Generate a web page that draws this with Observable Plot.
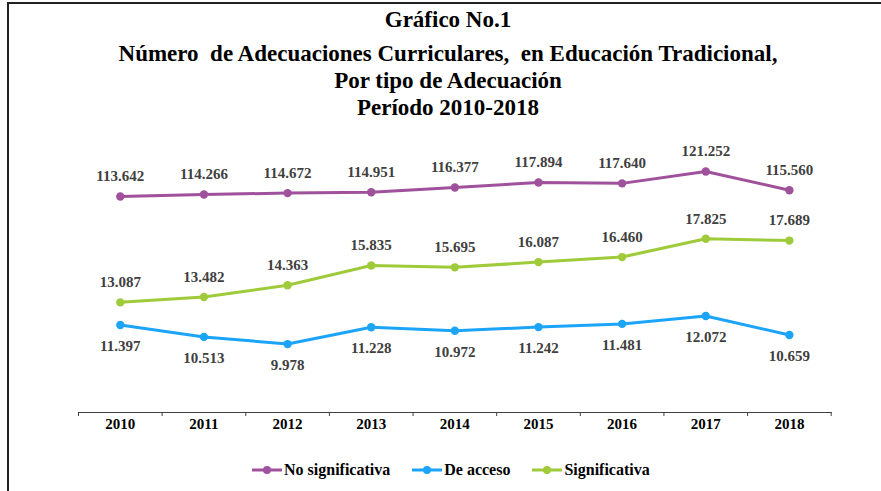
<!DOCTYPE html>
<html><head><meta charset="utf-8">
<script src="https://cdn.jsdelivr.net/npm/d3@7"></script>
<script src="https://cdn.jsdelivr.net/npm/@observablehq/plot@0.6"></script>
<style>
body{margin:0;background:#fff;width:881px;height:491px;overflow:hidden;position:relative;font-family:"Liberation Serif","Times New Roman",serif;}
#frame{position:absolute;left:7px;top:2px;width:900px;height:520px;border-top:2px solid #222;border-left:2px solid #222;}
#title{position:absolute;left:0;top:0;width:896px;text-align:center;font-weight:bold;font-size:23px;color:#000;}
#title div{white-space:pre;line-height:27px;height:27px;}
#title div:first-child{line-height:40px;height:40px;}
.panel{position:absolute;left:0;}
#top{top:130px;}
#bottom{top:215px;}
#legend{position:absolute;left:252px;top:461px;display:flex;align-items:center;font-weight:bold;font-size:16px;color:#000;}
#legend .item{display:flex;align-items:center;margin-right:22px;}
#legend svg{margin-right:2px;}
</style></head><body>
<div id="frame"></div>
<div id="title"></div>
<div id="top" class="panel"></div>
<div id="bottom" class="panel"></div>
<div id="legend"></div>
<script>
const years = [2010, 2011, 2012, 2013, 2014, 2015, 2016, 2017, 2018];
const noSignificativa = [113642, 114266, 114672, 114951, 116377, 117894, 117640, 121252, 115560];
const deAcceso = [11397, 10513, 9978, 11228, 10972, 11242, 11481, 12072, 10659];
const significativa = [13087, 13482, 14363, 15835, 15695, 16087, 16460, 17825, 17689];
const seriesNames = ["No significativa", "De acceso", "Significativa"];
const titleLines = [
  "Gráfico No.1",
  "Número  de Adecuaciones Curriculares,  en Educación Tradicional,",
  "Por tipo de Adecuación",
  "Período 2010-2018"
];

const seriesValues = [noSignificativa, deAcceso, significativa];
const colors = ["#a0519c", "#1ca5f8", "#9fcb3b"];
const labelDy = [-20, 21, -20];

const fmt = d3.formatLocale({decimal: ",", thousands: ".", grouping: [3], currency: ["", ""]}).format(",d");
const boundaries = d3.range(years.length + 1).map(k => years[0] - 0.5 + k);
const font = '"Liberation Serif","Times New Roman",serif';

const titleEl = document.getElementById("title");
titleLines.forEach(t => { const d = document.createElement("div"); d.textContent = t; titleEl.appendChild(d); });

function rows(i) {
  return years.map((yr, j) => ({serie: seriesNames[i], year: yr, value: seriesValues[i][j]}));
}
function seriesMarks(i) {
  const d = rows(i);
  return [
    Plot.line(d, {x: "year", y: "value", stroke: colors[i], strokeWidth: 3}),
    Plot.dot(d, {x: "year", y: "value", r: 4.2, fill: colors[i], stroke: "none"}),
    Plot.text(d, {x: "year", y: "value", text: r => fmt(r.value), dy: labelDy[i], fill: "#404040", fontWeight: "bold", fontSize: 15, fontFamily: font})
  ];
}
const xDomain = [years[0] - 0.5, years[years.length - 1] + 0.5];
const common = {width: 881, marginLeft: 78, marginRight: 50.3, style: {background: "transparent", color: "#404040", overflow: "visible"}};

// Upper panel: "No significativa" (secondary scale in the original chart)
const topChart = Plot.plot({
  ...common,
  height: 85, marginTop: 20, marginBottom: 10,
  x: {type: "linear", domain: xDomain, axis: null},
  y: {domain: [110900, 127650], axis: null},
  marks: seriesMarks(0)
});

// Lower panel: "De acceso" and "Significativa" + year axis
const bottomChart = Plot.plot({
  ...common,
  height: 235, marginTop: 15, marginBottom: 38,
  x: {type: "linear", domain: xDomain, ticks: boundaries, tickFormat: () => "", tickSize: 4, line: true, label: null},
  y: {domain: [4880, 18440], axis: null},
  marks: [
    ...seriesMarks(2),
    ...seriesMarks(1),
    Plot.text(years, {x: d => d, frameAnchor: "bottom", dy: 16, text: d => String(d), fill: "#000", fontWeight: "bold", fontSize: 15, fontFamily: font})
  ]
});
document.getElementById("top").appendChild(topChart);
document.getElementById("bottom").appendChild(bottomChart);

const legend = document.getElementById("legend");
seriesNames.forEach((name, i) => {
  const item = document.createElement("div");
  item.className = "item";
  item.innerHTML = `<svg width="30" height="10"><line x1="0" y1="5" x2="30" y2="5" stroke="${colors[i]}" stroke-width="3"/><circle cx="15" cy="5" r="4" fill="${colors[i]}"/></svg><span>${name}</span>`;
  legend.appendChild(item);
});
</script>
</body></html>
